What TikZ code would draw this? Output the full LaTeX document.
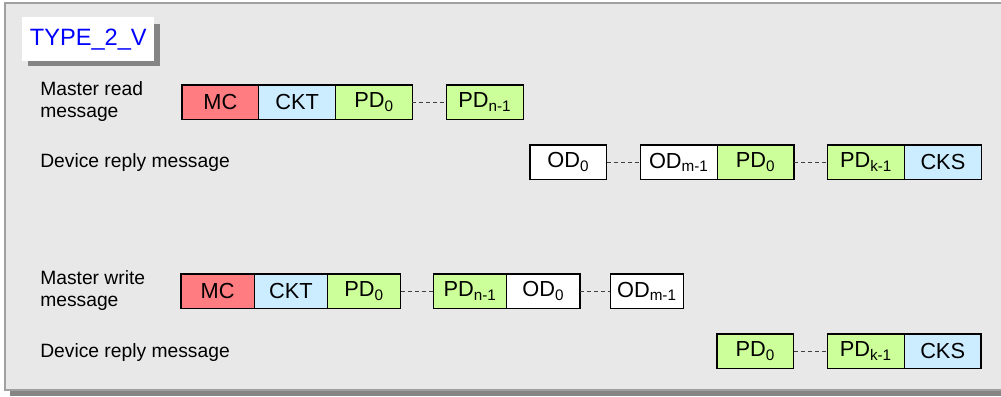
\documentclass[tikz,border=0pt]{standalone}
\usepackage{fontspec}
\setmainfont{Liberation Sans}
\usetikzlibrary{positioning}
\definecolor{panelgray}{HTML}{E8E8E8}
\definecolor{framegray}{HTML}{A0A0A0}
\definecolor{shadowgray}{HTML}{858585}
\definecolor{mcred}{HTML}{FF7C80}
\definecolor{ckblue}{HTML}{CCECFF}
\definecolor{pdgreen}{HTML}{CCFF99}
\begin{document}
\begin{tikzpicture}[x=0.025cm, y=-0.025cm,
  field/.style={draw=black, line width=0.9pt, outer sep=0pt, inner sep=0pt, minimum width=1.92cm, minimum height=0.86cm, font=\fontsize{15.5}{17}\selectfont},
  mcfield/.style={field, fill=mcred},
  ckfield/.style={field, fill=ckblue},
  pdfield/.style={field, fill=pdgreen},
  odfield/.style={field, fill=white},
  narrow/.style={minimum width=1.83cm},
  msglabel/.style={anchor=west, align=left, inner sep=0pt, font=\fontsize{13.7}{16.3}\selectfont},
  gap/.style={draw=black!75, line width=0.6pt, dash pattern=on 0.1cm off 0.075cm}]
\useasboundingbox (0,0) rectangle (1001,396);
% panel
\fill[shadowgray] (10,8) rectangle (1015,396);
\draw[framegray, fill=panelgray, line width=0.8pt] (5,3) rectangle (1010,390);
\fill[shadowgray] (28,24) rectangle (160,66);
\node[fill=white, inner sep=0pt, minimum width=3.3cm, minimum height=1.1cm, anchor=north west, text=blue, font=\fontsize{16.8}{18}\selectfont] (title) at (22,17) {TYPE\_2\_V};

% master read
\node[msglabel] (lread) at (40,101.5) {Master read\\message};
\node[mcfield, anchor=north west] (rmc) at (182,85) {MC};
\node[ckfield, right=0pt of rmc] (rckt) {CKT};
\node[pdfield, right=0pt of rckt] (rpd0) {PD\textsubscript{0}};
\node[pdfield, right=0.85cm of rpd0] (rpdn) {PD\textsubscript{n-1}};
\draw[gap] (rpd0) -- (rpdn);

% device reply (read)
\node[msglabel] (lreply1) at (40,163) {Device reply message};
\node[odfield, anchor=north west] (aod0) at (530,145) {OD\textsubscript{0}};
\node[odfield, right=0.84cm of aod0] (aodm) {OD\textsubscript{m-1}};
\node[pdfield, right=0pt of aodm] (apd0) {PD\textsubscript{0}};
\node[pdfield, right=0.84cm of apd0] (apdk) {PD\textsubscript{k-1}};
\node[ckfield, right=0pt of apdk] (acks) {CKS};
\draw[gap] (aod0) -- (aodm);
\draw[gap] (apd0) -- (apdk);

% master write
\node[msglabel] (lwrite) at (40,290.5) {Master write\\message};
\node[mcfield, narrow, anchor=north west] (wmc) at (181,274) {MC};
\node[ckfield, narrow, right=0pt of wmc] (wckt) {CKT};
\node[pdfield, narrow, right=0pt of wckt] (wpd0) {PD\textsubscript{0}};
\node[pdfield, narrow, right=0.82cm of wpd0] (wpdn) {PD\textsubscript{n-1}};
\node[odfield, narrow, right=0pt of wpdn] (wod0) {OD\textsubscript{0}};
\node[odfield, narrow, right=0.76cm of wod0] (wodm) {OD\textsubscript{m-1}};
\draw[gap] (wpd0) -- (wpdn);
\draw[gap] (wod0) -- (wodm);

% device reply (write)
\node[msglabel] (lreply2) at (40,353) {Device reply message};
\node[pdfield, anchor=north west] (bpd0) at (717,334) {PD\textsubscript{0}};
\node[pdfield, right=0.84cm of bpd0] (bpdk) {PD\textsubscript{k-1}};
\node[ckfield, right=0pt of bpdk] (bcks) {CKS};
\draw[gap] (bpd0) -- (bpdk);
\end{tikzpicture}
\end{document}
